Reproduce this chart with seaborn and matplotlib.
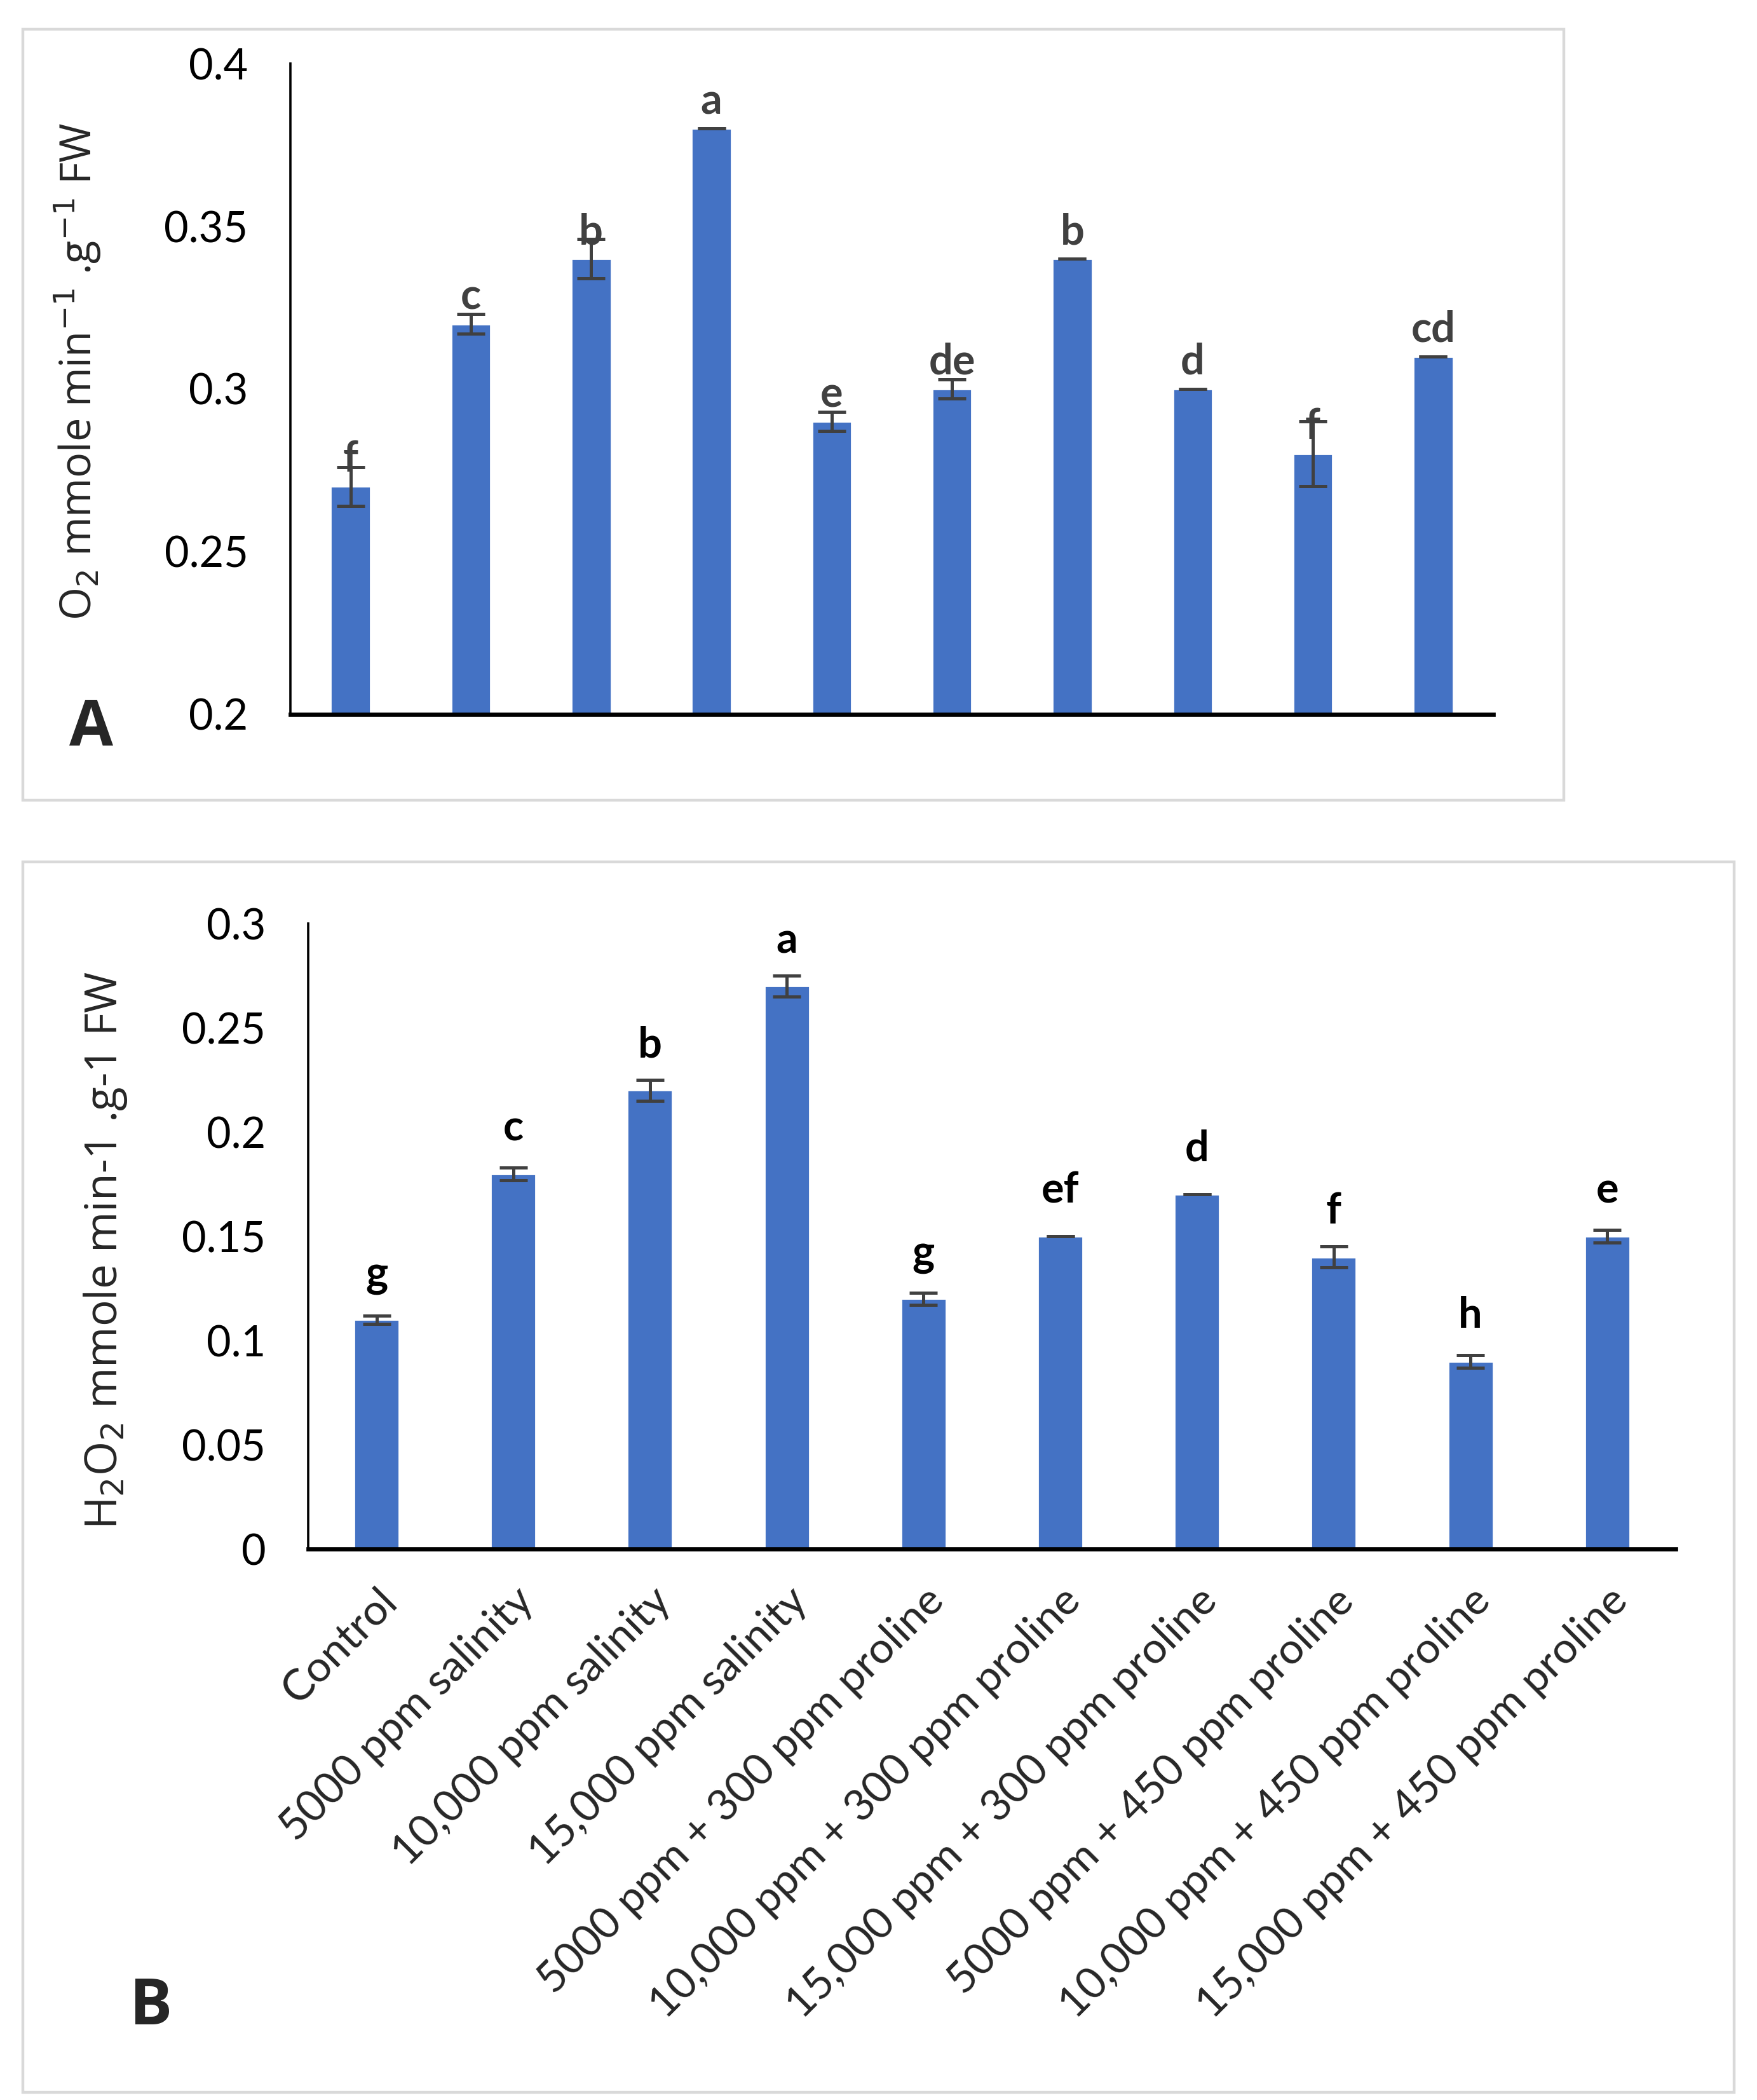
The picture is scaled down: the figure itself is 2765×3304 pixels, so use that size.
import matplotlib
matplotlib.use("Agg")
import matplotlib.pyplot as plt
import seaborn as sns
from matplotlib.patches import Rectangle

# treatments (shared x axis)
treatments = ["Control", "5000 ppm salinity", "10,000 ppm salinity", "15,000 ppm salinity",
              "5000 ppm + 300 ppm proline", "10,000 ppm + 300 ppm proline",
              "15,000 ppm + 300 ppm proline", "5000 ppm + 450 ppm proline",
              "10,000 ppm + 450 ppm proline", "15,000 ppm + 450 ppm proline"]

# panel A: O2 production
o2_vals = [0.27, 0.32, 0.34, 0.38, 0.29, 0.30, 0.34, 0.30, 0.28, 0.31]
o2_err = [0.006, 0.003, 0.006, 0.0, 0.003, 0.003, 0.0, 0.0, 0.010, 0.0]
o2_letters = ["f", "c", "b", "a", "e", "de", "b", "d", "f", "cd"]

# panel B: H2O2 production
h2o2_vals = [0.11, 0.18, 0.22, 0.27, 0.12, 0.15, 0.17, 0.14, 0.09, 0.15]
h2o2_err = [0.002, 0.003, 0.005, 0.005, 0.003, 0.0, 0.0, 0.005, 0.003, 0.003]
h2o2_letters = ["g", "c", "b", "a", "g", "ef", "d", "f", "h", "e"]

bar_col = "#4472C4"
err_col = "#404040"
tick_font = ["Lato", "DejaVu Sans"]
label_font = ["Open Sans", "DejaVu Sans"]

sns.set_style("white")
plt.rcParams["font.family"] = tick_font

fig = plt.figure(figsize=(13.825, 16.52), dpi=200)

# light grey frames around each panel
fig.patches.append(Rectangle((0.013, 0.619), 0.877, 0.367, transform=fig.transFigure,
                             fill=False, edgecolor="#d9d9d9", linewidth=1.6))
fig.patches.append(Rectangle((0.013, 0.0035), 0.974, 0.586, transform=fig.transFigure,
                             fill=False, edgecolor="#d9d9d9", linewidth=1.6))


def draw_panel(ax, vals, errs, letters, ylim, step, letter_col, letter_off):
    sns.barplot(x=treatments, y=vals, color=bar_col, width=0.33, saturation=1, ax=ax)
    ax.errorbar(range(len(vals)), vals, yerr=errs, fmt="none", ecolor=err_col,
                elinewidth=1.8, capsize=8, capthick=1.8)
    for i, (v, t) in enumerate(zip(vals, letters)):
        ax.text(i, v + letter_off, t, ha="center", va="baseline", fontsize=24,
                fontweight="bold", color=letter_col, family=tick_font)
    ax.set_ylim(*ylim)
    ax.set_xlim(-0.5, len(vals) - 0.5)
    ticks = [round(ylim[0] + k * step, 3) for k in range(int(round((ylim[1] - ylim[0]) / step)) + 1)]
    ax.set_yticks(ticks)
    ax.set_yticklabels([f"{t:g}" for t in ticks], fontsize=24, color="black")
    ax.tick_params(axis="y", length=0, pad=24)
    for s in ["top", "right"]:
        ax.spines[s].set_visible(False)
    ax.spines["left"].set_color("black")
    ax.spines["left"].set_linewidth(1.3)
    ax.spines["bottom"].set_color("black")
    ax.spines["bottom"].set_linewidth(2.4)
    ax.grid(False)


# ---- panel A ----
axA = fig.add_axes([0.1653, 0.6599, 0.6846, 0.3098])
draw_panel(axA, o2_vals, o2_err, o2_letters, (0.2, 0.4), 0.05, "#404040", 0.0045)
axA.set_xticks(range(len(treatments)))
axA.set_xticklabels([])
axA.tick_params(axis="x", length=0)
fig.text(0.044, 0.823, r"O$_2$ mmole min$^{-1}$ .g$^{-1}$ FW", fontsize=24,
         family=label_font, rotation=90, ha="center", va="center")
fig.text(0.052, 0.653, "A", fontsize=36, fontweight="bold", family=label_font,
         ha="center", va="center")

# ---- panel B ----
axB = fig.add_axes([0.1754, 0.2624, 0.7783, 0.2978])
draw_panel(axB, h2o2_vals, h2o2_err, h2o2_letters, (0.0, 0.3), 0.05, "black", 0.016)
axB.set_xticks(range(len(treatments)))
axB.set_xticklabels(treatments, rotation=45, ha="right", rotation_mode="anchor",
                    fontsize=24.5)
axB.tick_params(axis="x", length=0, pad=18)
fig.text(0.060, 0.4046, r"H$_2$O$_2$ mmole min-1 .g-1 FW", fontsize=25,
         family=label_font, rotation=90, ha="center", va="center")
fig.text(0.086, 0.044, "B", fontsize=36, fontweight="bold", family=label_font,
         ha="center", va="center")

fig.savefig("out.png", dpi=200)
